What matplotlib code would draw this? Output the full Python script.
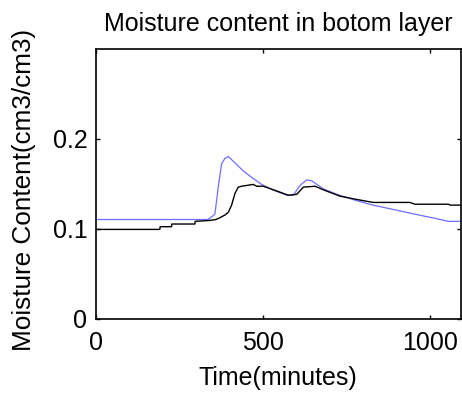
import matplotlib
matplotlib.use("Agg")
import matplotlib.pyplot as plt

plt.rcParams['font.family'] = ['Liberation Sans', 'DejaVu Sans']

# --- DATA ---
blue_t = [0, 337, 357, 367, 377, 387, 397, 420, 442, 470, 497, 530, 572, 592,
          612, 632, 647, 682, 730, 781, 830, 881, 930, 981, 1020, 1056, 1094]
blue_m = [0.110, 0.110, 0.116, 0.146, 0.172, 0.178, 0.180, 0.172, 0.164, 0.156,
          0.149, 0.143, 0.137, 0.137, 0.148, 0.154, 0.153, 0.144, 0.137, 0.131,
          0.126, 0.122, 0.118, 0.114, 0.111, 0.108, 0.108]

black_t = [0, 192, 193, 227, 228, 297, 298, 342, 360, 372, 387, 397, 407, 417,
           427, 437, 472, 482, 502, 540, 577, 602, 622, 657, 682, 731, 786,
           831, 941, 956, 1056, 1062, 1094]
black_m = [0.099, 0.099, 0.102, 0.102, 0.105, 0.105, 0.108, 0.109, 0.110, 0.112,
           0.115, 0.118, 0.126, 0.139, 0.146, 0.147, 0.149, 0.147, 0.147, 0.142,
           0.137, 0.138, 0.146, 0.147, 0.143, 0.136, 0.132, 0.129, 0.129, 0.127,
           0.127, 0.126, 0.126]

x_ticks = [0, 500, 1000]
y_ticks = [0, 0.1, 0.2]

fig = plt.figure(figsize=(4.62, 3.96), dpi=100)
ax = fig.add_axes([95.7 / 462, 1 - 318.5 / 396, (461 - 95.7) / 462, (318.5 - 49) / 396])

ax.plot(blue_t, blue_m, color='#6f6fff', linewidth=0.9)
ax.plot(black_t, black_m, color='black', linewidth=1.0)

ax.set_xlim(0, 1094)
ax.set_ylim(0, 0.2995)
ax.set_xticks(x_ticks)
ax.set_yticks(y_ticks)
ax.set_yticklabels(['0', '0.1', '0.2'])
ax.tick_params(direction='in', length=3, width=1, top=True, right=True,
               labelsize=18)
ax.tick_params(axis='x', pad=9)
ax.tick_params(axis='y', pad=6)
for s in ax.spines.values():
    s.set_linewidth(1.2)

ax.set_title('Moisture content in botom layer', fontsize=18, pad=13)
ax.set_xlabel('Time(minutes)', fontsize=18, labelpad=8)
ax.set_ylabel('Moisture Content(cm3/cm3)', fontsize=18.8)
ax.yaxis.set_label_coords(-0.163, 0.477)

fig.savefig('out.png', dpi=100)
